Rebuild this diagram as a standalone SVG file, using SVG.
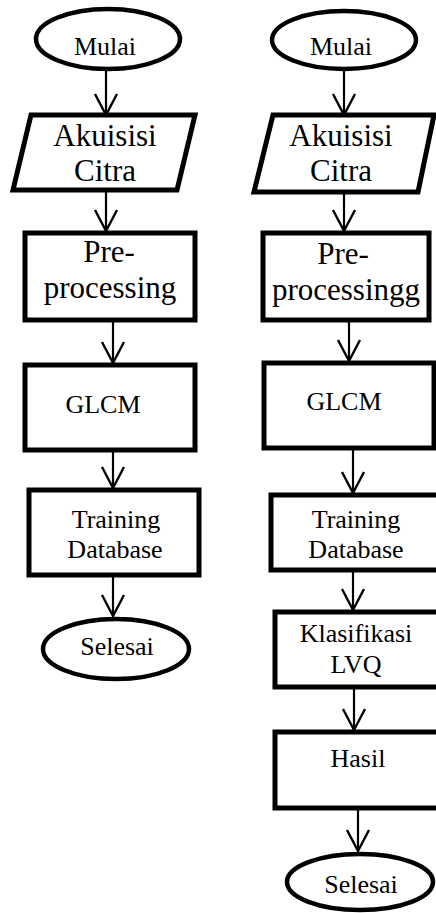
<svg xmlns="http://www.w3.org/2000/svg" width="436" height="913" viewBox="0 0 436 913">
<style>
.box{fill:#fff;stroke:#000;stroke-width:5;stroke-linejoin:miter}
.term{fill:#fff;stroke:#000;stroke-width:4.5}
.t{font-family:"Liberation Serif","Times New Roman",serif;fill:#000;text-anchor:middle}
.big{font-size:31px}
.sm{font-size:26px}
.c line{stroke:#000;stroke-width:2.2}
</style>
<defs>
<marker id="ah" markerUnits="userSpaceOnUse" markerWidth="40" markerHeight="40" viewBox="-30 -20 40 40" refX="0" refY="0" orient="auto" overflow="visible">
<path d="M-21,-11 L0,0 L-21,11" fill="none" stroke="#000" stroke-width="2.4"/>
</marker>
</defs>
<rect width="436" height="913" fill="#fff"/>
<g class="c" id="connectors">
<line x1="106" y1="70" x2="106" y2="115" marker-end="url(#ah)"/>
<line x1="106" y1="190" x2="106" y2="231" marker-end="url(#ah)"/>
<line x1="113" y1="320" x2="113" y2="363" marker-end="url(#ah)"/>
<line x1="113" y1="450" x2="113" y2="488" marker-end="url(#ah)"/>
<line x1="113" y1="575" x2="113" y2="616" marker-end="url(#ah)"/>
<line x1="344" y1="70" x2="344" y2="115" marker-end="url(#ah)"/>
<line x1="344" y1="192" x2="344" y2="231" marker-end="url(#ah)"/>
<line x1="349" y1="320" x2="349" y2="361" marker-end="url(#ah)"/>
<line x1="353" y1="448" x2="353" y2="493" marker-end="url(#ah)"/>
<line x1="353" y1="570" x2="353" y2="610" marker-end="url(#ah)"/>
<line x1="354" y1="687" x2="354" y2="730" marker-end="url(#ah)"/>
<line x1="358" y1="808" x2="358" y2="851" marker-end="url(#ah)"/>
</g>
<g id="mulai1"><ellipse class="term" cx="108" cy="39" rx="72" ry="30"/><text class="t sm" x="105" y="55">Mulai</text></g>
<g id="akuisisi1"><polygon class="box" points="31,115 195,115 177,190 13,190"/><text class="t big" x="105" y="146">Akuisisi</text><text class="t big" x="105" y="181">Citra</text></g>
<g id="pre1"><rect class="box" x="25" y="233" width="170" height="87"/><text class="t big" x="109" y="262">Pre-</text><text class="t big" x="110" y="298">processing</text></g>
<g id="glcm1"><rect class="box" x="25" y="365" width="170" height="85"/><text class="t sm" x="103" y="413">GLCM</text></g>
<g id="train1"><rect class="box" x="29" y="490" width="170" height="85"/><text class="t sm" x="116" y="528">Training</text><text class="t sm" x="115" y="558">Database</text></g>
<g id="selesai1"><ellipse class="term" cx="116" cy="649" rx="73" ry="30"/><text class="t sm" x="117" y="655">Selesai</text></g>
<g id="mulai2"><ellipse class="term" cx="344" cy="40" rx="72" ry="29"/><text class="t sm" x="341" y="55">Mulai</text></g>
<g id="akuisisi2"><polygon class="box" points="273,115 434,115 418,192 254,192"/><text class="t big" x="341" y="146">Akuisisi</text><text class="t big" x="341" y="181">Citra</text></g>
<g id="pre2"><rect class="box" x="263" y="233" width="166" height="87"/><text class="t big" x="343" y="264">Pre-</text><text class="t big" x="346" y="300">processingg</text></g>
<g id="glcm2"><rect class="box" x="264" y="363" width="170" height="85"/><text class="t sm" x="344" y="410">GLCM</text></g>
<g id="train2"><rect class="box" x="271" y="495" width="172" height="75"/><text class="t sm" x="356" y="528">Training</text><text class="t sm" x="356" y="558">Database</text></g>
<g id="klas2"><rect class="box" x="275" y="612" width="168" height="75"/><text class="t sm" x="356" y="642">Klasifikasi</text><text class="t sm" x="356" y="673">LVQ</text></g>
<g id="hasil2"><rect class="box" x="275" y="732" width="168" height="76"/><text class="t sm" x="358" y="767">Hasil</text></g>
<g id="selesai2"><ellipse class="term" cx="360" cy="882" rx="73" ry="28"/><text class="t sm" x="361" y="893">Selesai</text></g>
</svg>
